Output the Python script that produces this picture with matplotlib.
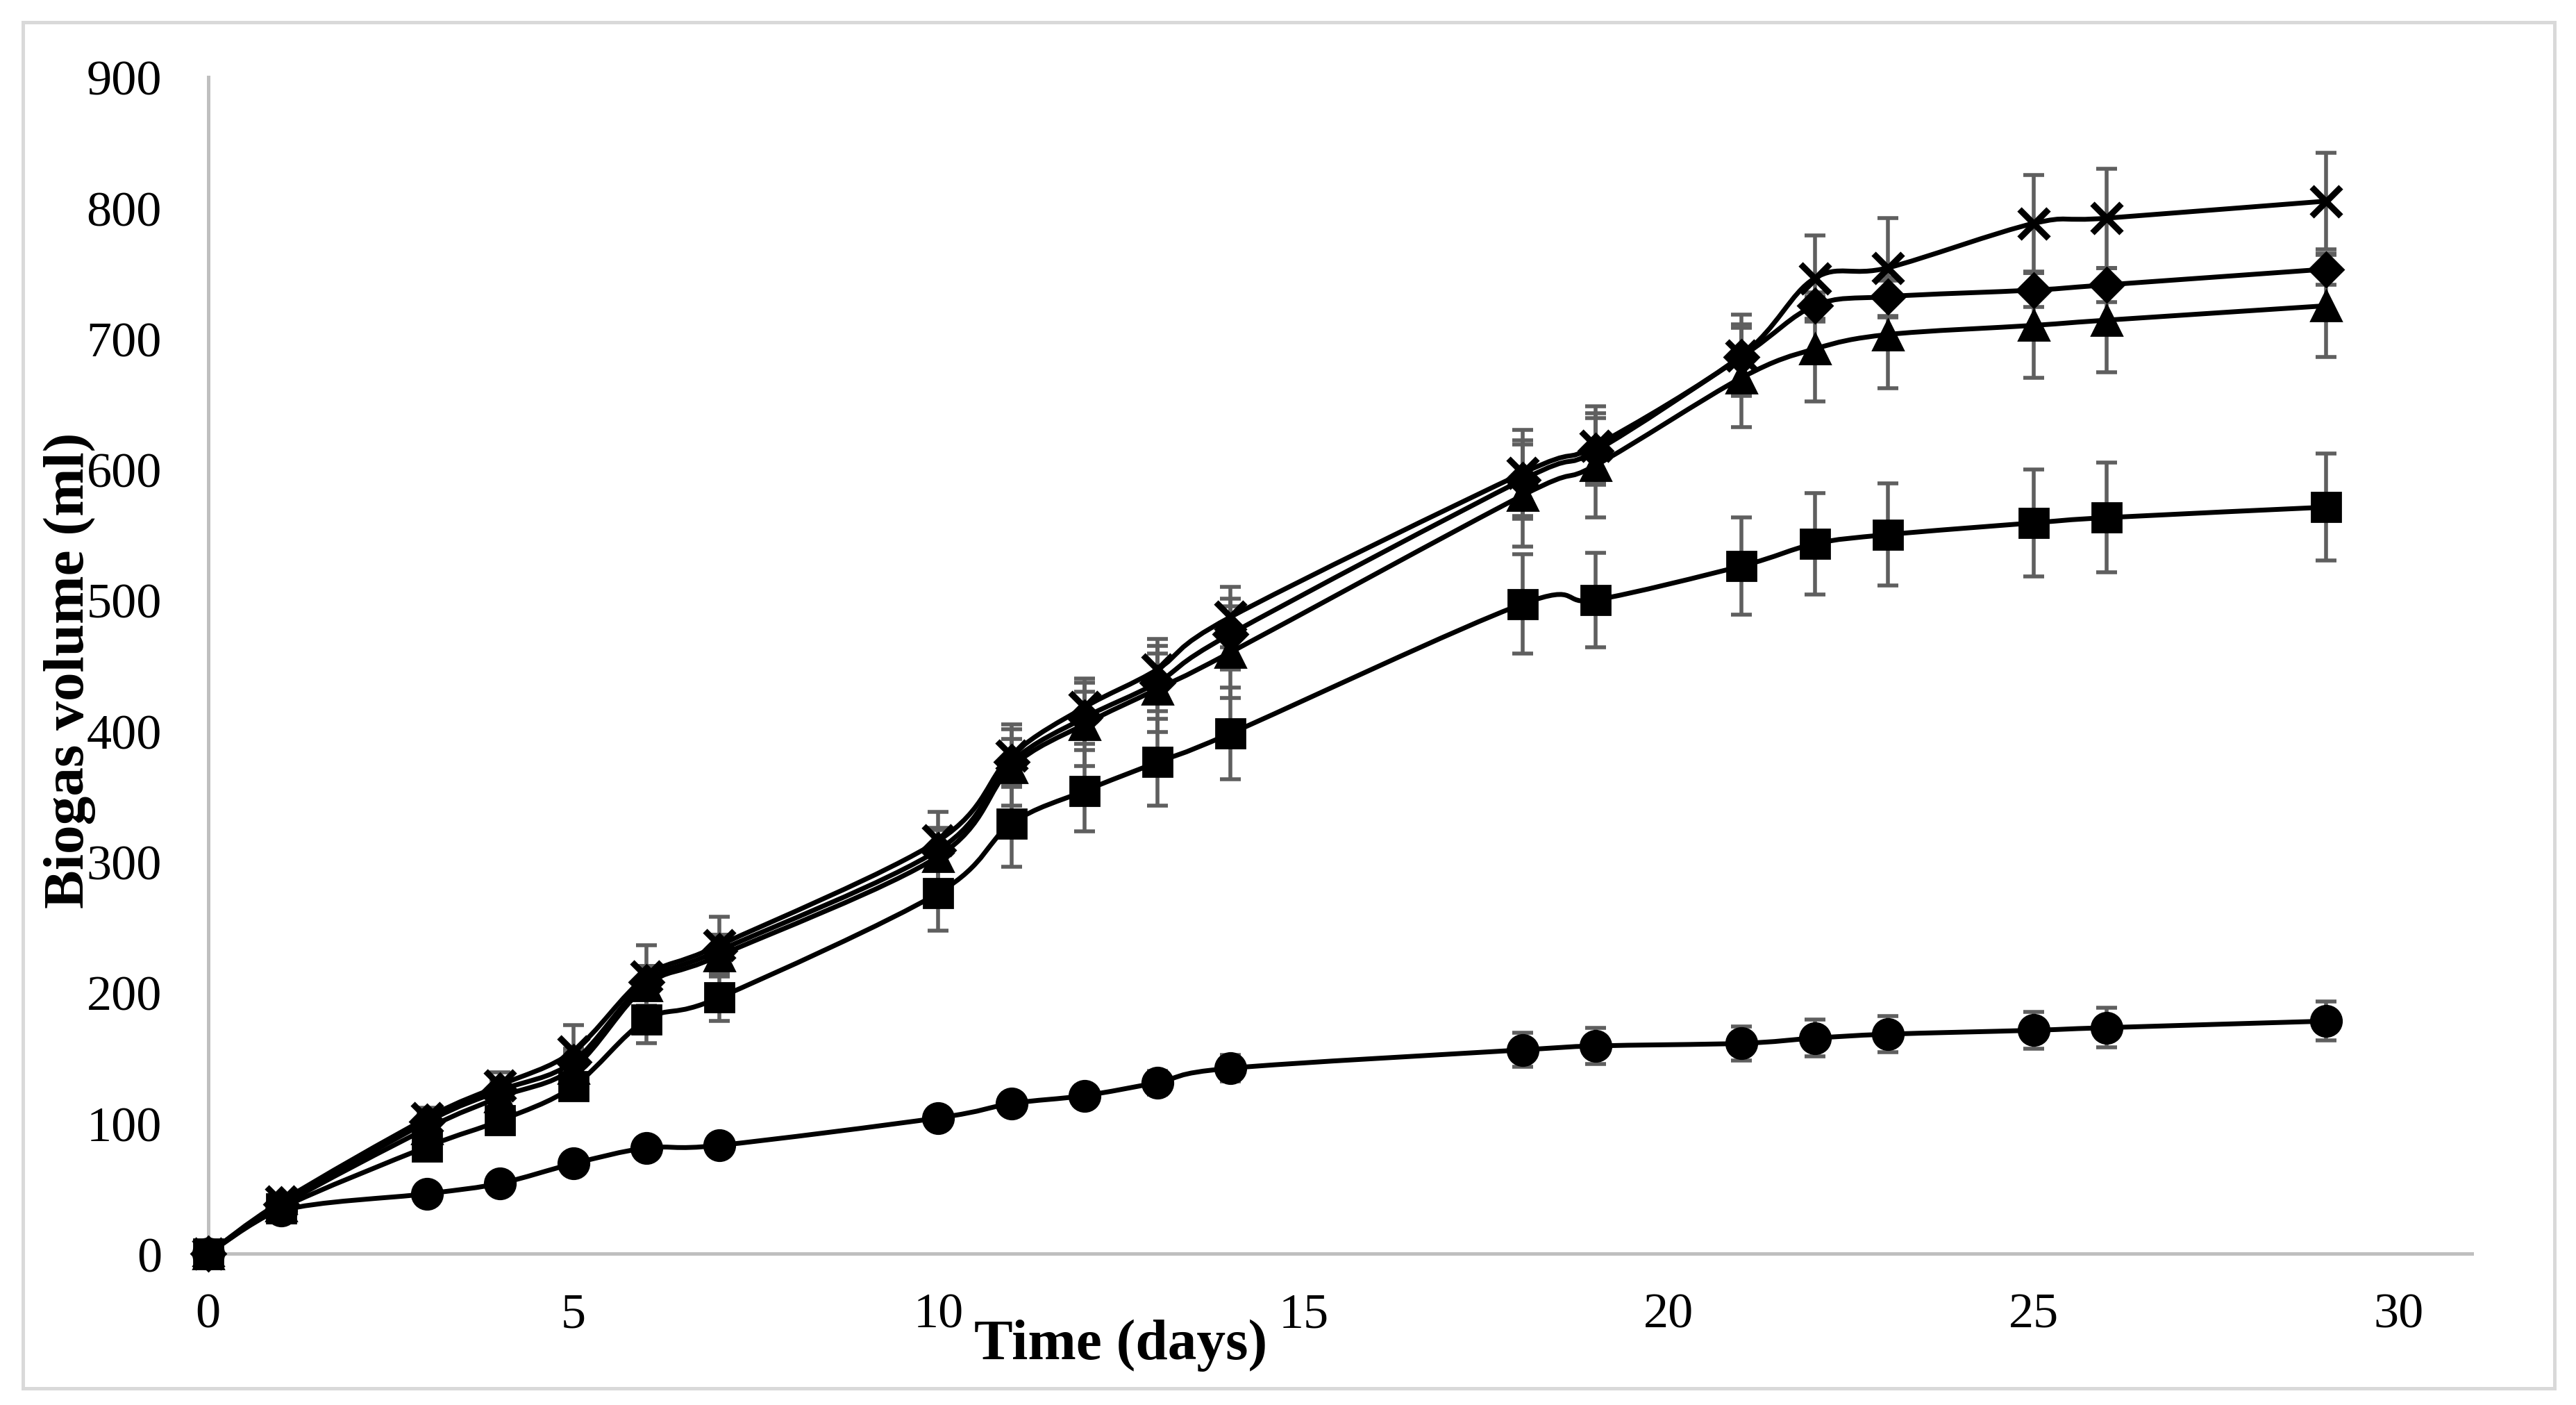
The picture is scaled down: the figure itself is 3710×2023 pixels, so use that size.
import numpy as np
import matplotlib
matplotlib.use("Agg")
import matplotlib.pyplot as plt
from matplotlib.path import Path
from matplotlib.patches import PathPatch, Rectangle

plt.rcParams['font.family'] = ['Liberation Serif', 'DejaVu Serif']

days = [0, 1, 3, 4, 5, 6, 7, 10, 11, 12, 13, 14, 18, 19, 21, 22, 23, 25, 26, 29]

diamond = [0, 38, 101, 125, 147, 208, 232, 309, 376, 410, 437, 474, 592, 614, 686, 725, 732, 737, 741, 753]
diamond_err = [0, 3, 6, 8, 10, 12, 12, 15, 18, 20, 22, 27, 30, 25, 25, 10, 15, 13, 13, 12]

square = [0, 35, 82, 102, 128, 179, 196, 276, 329, 354, 376, 398, 497, 500, 526, 543, 550, 559, 563, 571]
square_err = [0, 3, 7, 8, 10, 18, 18, 29, 33, 31, 33, 35, 38, 36, 37, 39, 39, 41, 42, 41]

triangle = [0, 37, 96, 120, 142, 205, 228, 304, 372, 405, 432, 460, 580, 603, 670, 692, 703, 710, 714, 725]
triangle_err = [0, 3, 8, 10, 12, 15, 16, 22, 29, 32, 33, 35, 39, 40, 38, 40, 41, 40, 40, 39]

cross = [0, 40, 104, 129, 155, 212, 236, 316, 381, 418, 447, 487, 597, 618, 687, 746, 754, 788, 792, 805]
cross_err = [0, 4, 8, 10, 20, 24, 22, 22, 24, 22, 23, 23, 33, 30, 31, 33, 38, 37, 38, 37]

circle = [0, 33, 46, 54, 69, 81, 83, 104, 115, 121, 131, 142, 156, 159, 161, 165, 168, 171, 173, 178]
circle_err = [0, 2, 3, 3, 4, 5, 5, 8, 8, 8, 9, 10, 13, 14, 13, 14, 14, 14, 15, 15]

series = [
    (diamond, diamond_err, 'D', 12.5, 0),
    (square, square_err, 's', 15, 0),
    (triangle, triangle_err, '^', 16, 0),
    (cross, cross_err, 'x', 15, 3.2),
    (circle, circle_err, 'o', 16, 0),
]


def smooth_path(x, y):
    # Excel-style smoothed line: Catmull-Rom segments as cubic Beziers
    pts = np.column_stack([x, y]).astype(float)
    n = len(pts)
    verts = [pts[0]]
    codes = [Path.MOVETO]
    for i in range(n - 1):
        p0 = pts[i - 1] if i > 0 else pts[i]
        p1 = pts[i]
        p2 = pts[i + 1]
        p3 = pts[i + 2] if i + 2 < n else pts[i + 1]
        verts += [p1 + (p2 - p0) / 6, p2 - (p3 - p1) / 6, p2]
        codes += [Path.CURVE4] * 3
    return Path(verts, codes)


fig = plt.figure(figsize=(18.55, 10.12), dpi=200)
ax = fig.add_axes([0.0808, 0.1075, 0.9596 - 0.0808, 0.9448 - 0.1075])

for vals, err, mk, ms, mew in series:
    ax.errorbar(days, vals, yerr=err, fmt='none', ecolor='#5f5f5f',
                elinewidth=2.0, capsize=5.5, capthick=2.0, zorder=2, clip_on=False)
    ax.add_patch(PathPatch(smooth_path(days, vals), fill=False, edgecolor='black',
                           lw=2.5, capstyle='round', joinstyle='round', zorder=3, clip_on=False))
    if mk == 'x':
        ax.plot(days, vals, ls='none', marker=mk, ms=ms, mew=mew, color='black',
                zorder=4, clip_on=False)
    else:
        ax.plot(days, vals, ls='none', marker=mk, ms=ms, mfc='black', mec='black',
                mew=1, zorder=4, clip_on=False)

ax.set_xlim(0, 31)
ax.set_ylim(0, 900)
ax.set_xticks([0, 5, 10, 15, 20, 25, 30])
ax.set_yticks(np.arange(0, 901, 100))
ax.tick_params(axis='both', length=0, labelsize=26, colors='black')
ax.tick_params(axis='y', pad=24)
ax.tick_params(axis='x', pad=20)

for side in ['top', 'right']:
    ax.spines[side].set_visible(False)
for side in ['left', 'bottom']:
    ax.spines[side].set_color('#BFBFBF')
    ax.spines[side].set_linewidth(1.8)
    ax.spines[side].set_zorder(1)

fig.text(0.435, 0.033, 'Time (days)', fontsize=30, fontweight='bold',
         ha='center', va='baseline')
fig.text(0.027, 0.523, 'Biogas volume (ml)', fontsize=30, fontweight='bold',
         ha='center', va='center', rotation=90)

fig.patches.append(Rectangle((0.009, 0.012), 0.9827, 0.9715, transform=fig.transFigure,
                             fill=False, edgecolor='#D9D9D9', lw=1.8))

fig.savefig('out.png', dpi=200, facecolor='white')
